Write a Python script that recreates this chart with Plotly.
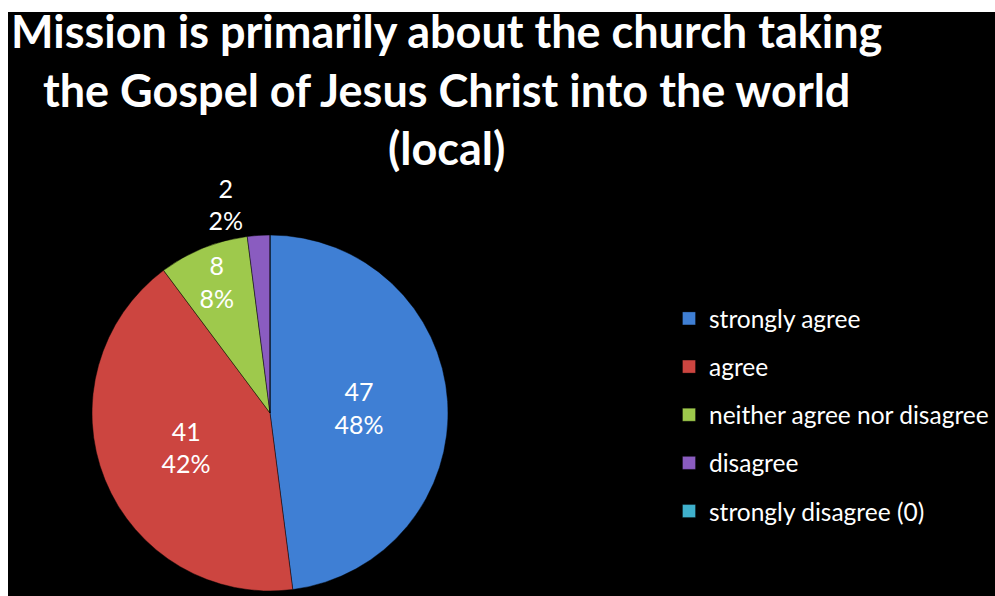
import plotly.graph_objects as go

# Survey responses (local)
categories = ["strongly agree", "agree", "neither agree nor disagree", "disagree", "strongly disagree (0)"]
counts = [47, 41, 8, 2, 0]
colors = ["#3f7fd4", "#cc4540", "#9ec94c", "#8a5cc0", "#3fb0cc"]
title_lines = [
    "Mission is primarily about the church taking",
    "the Gospel of Jesus Christ into the world",
    "(local)",
]

FONT = "Lato"
W, H = 995, 596

# Non-zero slices carry a label; the tiny one is labelled outside, empty ones not at all
text_pos = ["none" if c == 0 else ("inside" if c >= 5 else "outside") for c in counts]

fig = go.Figure()

fig.add_trace(go.Pie(
    labels=categories,
    values=counts,
    sort=False,
    direction="clockwise",
    rotation=0,
    marker=dict(colors=colors, line=dict(color="rgba(0,0,0,0.45)", width=1)),
    texttemplate="%{value}<br>%{percent:.0%}",
    textposition=text_pos,
    insidetextorientation="horizontal",
    textfont=dict(family=FONT, size=25, color="white"),
    outsidetextfont=dict(family=FONT, size=25, color="white"),
    showlegend=False,
    hoverinfo="label+value+percent",
    domain=dict(x=[92 / W, 448 / W], y=[1 - 591 / H, 1 - 235 / H]),
))

# Legend entries: one square per category, spaced apart by group gaps
for i, (cat, col) in enumerate(zip(categories, colors)):
    fig.add_trace(go.Scatter(
        x=[None], y=[None],
        mode="markers",
        name=cat,
        legendgroup=f"g{i}",
        marker=dict(symbol="square", size=13, color=col,
                    line=dict(color="rgba(0,0,0,0.3)", width=1)),
        showlegend=True,
    ))

fig.update_layout(
    width=W, height=H,
    margin=dict(l=0, r=0, t=0, b=0),
    paper_bgcolor="white",
    plot_bgcolor="rgba(0,0,0,0)",
    xaxis=dict(visible=False),
    yaxis=dict(visible=False),
    shapes=[dict(type="rect", xref="paper", yref="paper",
                 x0=8 / W, x1=1, y0=0, y1=1 - 12 / H,
                 fillcolor="black", line=dict(width=0), layer="below")],
    annotations=[dict(
        text="<b>" + "<br>".join(title_lines) + "</b>",
        xref="paper", yref="paper", x=446 / W, y=1 - 2 / H,
        xanchor="center", yanchor="top", showarrow=False,
        font=dict(family=FONT, size=45, color="white"),
        align="center",
    )],
    legend=dict(
        x=669 / W, y=1 - 296 / H, xanchor="left", yanchor="top",
        bgcolor="rgba(0,0,0,0)",
        font=dict(family=FONT, size=24.5, color="white"),
        traceorder="grouped",
        tracegroupgap=13.3,
    ),
)

fig.write_html("out.html")
